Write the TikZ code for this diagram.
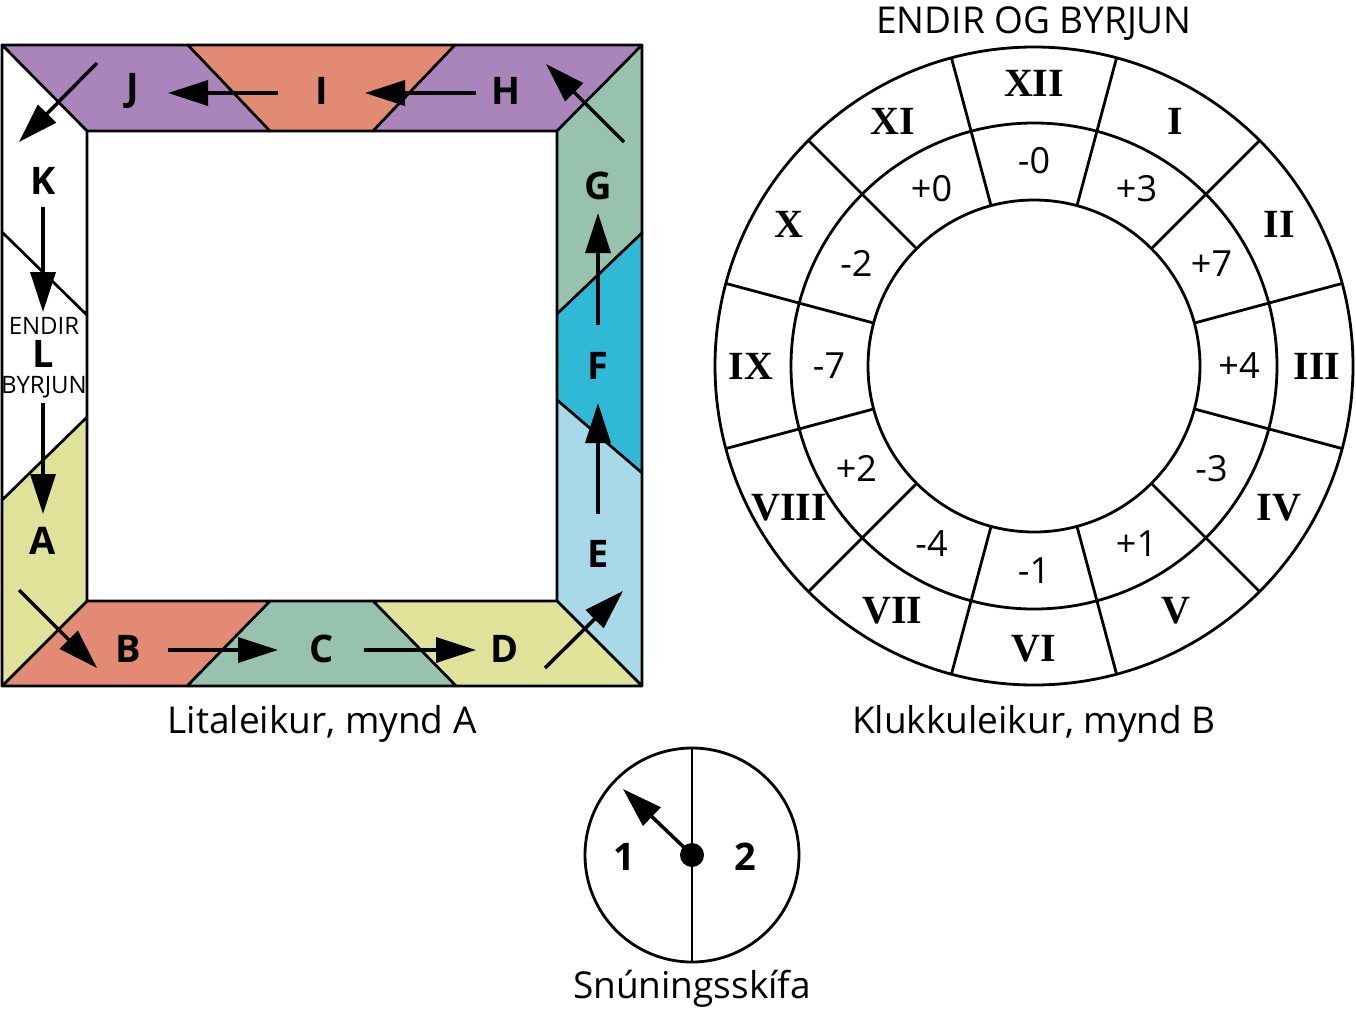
\documentclass[tikz,border=0pt]{standalone}
\usepackage{fontspec}
\setmainfont{Open Sans}
\newfontfamily\romanfont{Liberation Serif}
\usetikzlibrary{arrows.meta}

\definecolor{tilepurple}{HTML}{A985BB}
\definecolor{tilesalmon}{HTML}{E28A74}
\definecolor{tilegreen}{HTML}{97C2AE}
\definecolor{tileyellow}{HTML}{E0E29A}
\definecolor{tilecyan}{HTML}{2FB9D7}
\definecolor{tilesky}{HTML}{A7D9E9}

\tikzset{
  tile/.style={draw=black, line width=2.6pt, line join=round},
  ring/.style={draw=black, line width=2.8pt},
  flow/.style={-{Triangle[length=40pt,width=25pt]}, line width=3.5pt},
  piece/.style={font=\bfseries\fontsize{38}{38}\selectfont, inner sep=0pt},
  tiny/.style={font=\fontsize{24}{24}\selectfont, inner sep=0pt},
  numeral/.style={font=\romanfont\bfseries\fontsize{40}{40}\selectfont, inner sep=0pt},
  score/.style={font=\fontsize{36}{36}\selectfont, inner sep=0pt},
  caption/.style={font=\fontsize{37}{37}\selectfont, inner sep=0pt, anchor=base}
}

\begin{document}
\begin{tikzpicture}[x=1pt, y=-1pt]
  \useasboundingbox (0,0) rectangle (1356,1015);

  % mynd A: the colour board
  \filldraw[tile, fill=tilepurple] (2,45) -- (188,45) -- (270,131) -- (87,131) -- cycle;
  \filldraw[tile, fill=tilesalmon] (188,45) -- (455,45) -- (373,131) -- (270,131) -- cycle;
  \filldraw[tile, fill=tilepurple] (455,45) -- (642,45) -- (557,131) -- (373,131) -- cycle;
  \filldraw[tile, fill=tilegreen] (642,45) -- (642,233) -- (557,314) -- (557,131) -- cycle;
  \filldraw[tile, fill=tilecyan] (642,233) -- (642,473) -- (557,400) -- (557,314) -- cycle;
  \filldraw[tile, fill=tilesky] (642,473) -- (642,686) -- (557,601) -- (557,400) -- cycle;
  \filldraw[tile, fill=tileyellow] (642,686) -- (456,686) -- (373,601) -- (557,601) -- cycle;
  \filldraw[tile, fill=tilegreen] (456,686) -- (187,686) -- (270,601) -- (373,601) -- cycle;
  \filldraw[tile, fill=tilesalmon] (187,686) -- (2,686) -- (87,601) -- (270,601) -- cycle;
  \filldraw[tile, fill=tileyellow] (2,686) -- (2,500) -- (87,417) -- (87,601) -- cycle;
  \filldraw[tile, fill=white] (2,500) -- (2,232) -- (87,315) -- (87,417) -- cycle;
  \filldraw[tile, fill=white] (2,232) -- (2,45) -- (87,131) -- (87,315) -- cycle;

  \node[piece] (J) at (133,91) {J};
  \node[piece] (I) at (322,91) {I};
  \node[piece] (H) at (506,91) {H};
  \node[piece] (G) at (598,186) {G};
  \node[piece] (F) at (598,366) {F};
  \node[piece] (E) at (598,554) {E};
  \node[piece] (D) at (505,649) {D};
  \node[piece] (C) at (322,649) {C};
  \node[piece] (B) at (128,649) {B};
  \node[piece] (A) at (43,541) {A};
  \node[piece] (K) at (43,181) {K};
  \node[piece] (L) at (43,354) {L};
  \node[tiny] (endir) at (44,326) {ENDIR};
  \node[tiny] (byrjun) at (44,387) {BYRJUN};

  % the way round the board
  \draw[flow] (97,63) -- (19,142);
  \draw[flow] (43,207) -- (43,312);
  \draw[flow] (43,403) -- (43,514);
  \draw[flow] (19,590) -- (97,668);
  \draw[flow] (168,650) -- (278,650);
  \draw[flow] (364,650) -- (476,650);
  \draw[flow] (545,668) -- (623,591);
  \draw[flow] (598,514) -- (598,403);
  \draw[flow] (598,325) -- (598,213);
  \draw[flow] (624,142) -- (546,64);
  \draw[flow] (476,93) -- (365,93);
  \draw[flow] (278,93) -- (168,93);

  \node[caption] (capA) at (322,733) {Litaleikur, mynd A};

  % mynd B: the clock
  \coordinate (clk) at (1034,366);
  \node[caption] (title) at (1034,33) {ENDIR OG BYRJUN};
  \draw[ring] (clk) circle[radius=319];
  \draw[ring] (clk) circle[radius=243];
  \draw[ring] (clk) circle[radius=166];
  \foreach \a in {15,45,...,345}
    \draw[ring] ([shift={(\a:166)}]clk) -- ([shift={(\a:319)}]clk);

  \foreach \rom/\pts [count=\k from 0] in {XII/-0, I/+3, II/+7, III/+4, IV/-3, V/+1,
                                            VI/-1, VII/-4, VIII/+2, IX/-7, X/-2, XI/+0} {
    \node[numeral] (rom\k) at ([shift={({-90+30*\k}:283)}]clk) {\rom};
    \node[score] (pts\k) at ([shift={({-90+30*\k}:205)}]clk) {\pts};
  }

  \node[caption] (capB) at (1034,733) {Klukkuleikur, mynd B};

  % spinner
  \coordinate (hub) at (692,855);
  \coordinate (pointer) at (623,789);
  \draw[ring] (hub) circle[radius=107];
  \draw[ring] (hub) ++(0,-107) -- ++(0,214);
  \draw[flow] (hub) -- (pointer);
  \fill (hub) circle[radius=12];
  \node[piece] (one) at (624,857) {1};
  \node[piece] (two) at (745,857) {2};
  \node[caption] (capC) at (692,998) {Snúningsskífa};
\end{tikzpicture}
\end{document}
